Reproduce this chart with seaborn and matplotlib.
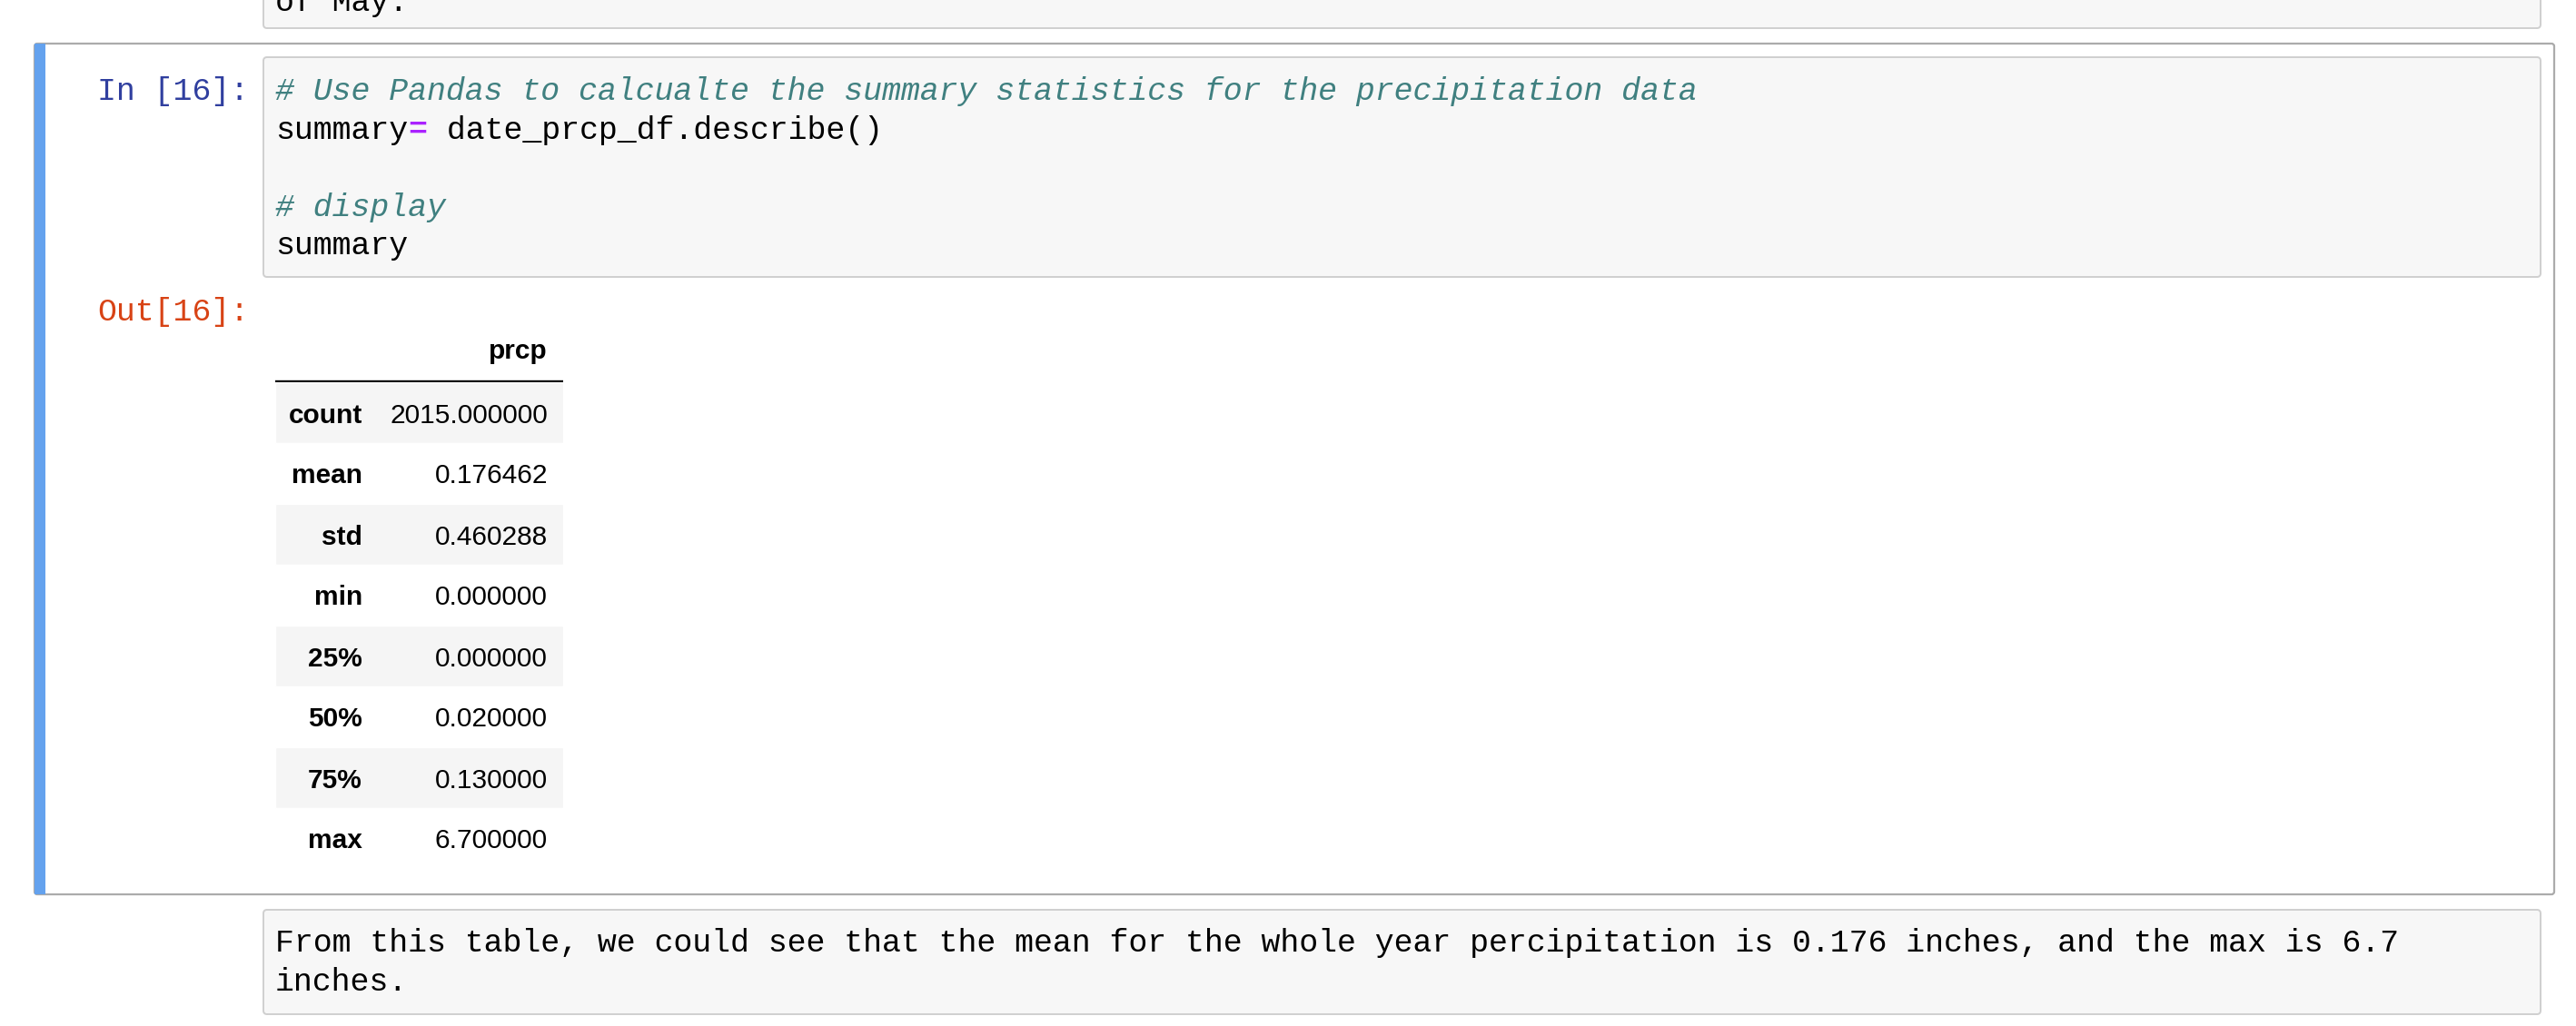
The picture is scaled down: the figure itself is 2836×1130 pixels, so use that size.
import matplotlib
matplotlib.use("Agg")
import matplotlib.pyplot as plt
from matplotlib.patches import FancyBboxPatch, Rectangle
import seaborn as sns
import pandas as pd

# ---------------- data ----------------
stat_labels = ["count", "mean", "std", "min", "25%", "50%", "75%", "max"]
prcp_values = [2015.0, 0.176462, 0.460288, 0.0, 0.0, 0.02, 0.13, 6.7]
column_name = "prcp"
in_prompt = "In [16]:"
out_prompt = "Out[16]:"
comment_1 = "# Use Pandas to calcualte the summary statistics for the precipitation data"
code_var = "summary"
code_op = "="
code_rest = " date_prcp_df.describe()"
comment_2 = "# display"
code_last = "summary"
prev_text = "of May."
md_lines = ["From this table, we could see that the mean for the whole year percipitation is 0.176 inches, and the max is 6.7",
            "inches."]

# ---------------- style ----------------
sns.set_theme(style="white")
plt.rcParams["font.family"] = ["Liberation Sans", "DejaVu Sans"]

W, H = 2836, 1130
fig = plt.figure(figsize=(W / 100, H / 100), dpi=100)
fig.patch.set_facecolor("white")
ax = fig.add_axes([0, 0, 1, 1])
ax.set_xlim(0, W)
ax.set_ylim(H, 0)
ax.axis("off")

MONO = "Liberation Mono"
MSIZE = 25.15
CW = 20.96  # monospace char advance in px
X0 = 303

def box(x0, y0, x1, y1, fc, ec, lw, r=4, z=1):
    p = FancyBboxPatch((x0, y0), x1 - x0, y1 - y0,
                       boxstyle=f"round,pad=0,rounding_size={r}",
                       fc=fc, ec=ec, lw=lw, zorder=z)
    ax.add_patch(p)

# previous markdown cell (cut off at top)
box(290, -30, 2797, 31, "#f7f7f7", "#cfcfcf", 1.4)
ax.text(X0, 12, prev_text, family=MONO, fontsize=MSIZE, color="black",
        ha="left", va="baseline", zorder=3)

# selected cell border
box(38, 48, 2812, 985, "white", "#ababab", 1.6, r=3)
ax.add_patch(Rectangle((38, 48), 12, 985 - 48, fc="#64a2ee", ec="none", zorder=2))

# code input box
box(290, 63, 2797, 305, "#f7f7f7", "#cfcfcf", 1.4)
ax.text(107, 110, in_prompt, family=MONO, fontsize=MSIZE, color="#303f9f",
        ha="left", va="baseline", zorder=3)

LH = 42.6
base = 110
ax.text(X0, base, comment_1, family=MONO, style="italic", fontsize=MSIZE,
        color="#408080", ha="left", va="baseline", zorder=3)
y2 = base + LH
ax.text(X0, y2, code_var, family=MONO, fontsize=MSIZE, color="black",
        ha="left", va="baseline", zorder=3)
ax.text(X0 + CW * len(code_var), y2, code_op, family=MONO, fontweight="bold",
        fontsize=MSIZE, color="#aa22ff", ha="left", va="baseline", zorder=3)
ax.text(X0 + CW * (len(code_var) + len(code_op)), y2, code_rest, family=MONO,
        fontsize=MSIZE, color="black", ha="left", va="baseline", zorder=3)
ax.text(X0, base + 3 * LH, comment_2, family=MONO, style="italic", fontsize=MSIZE,
        color="#408080", ha="left", va="baseline", zorder=3)
ax.text(X0, base + 4 * LH, code_last, family=MONO, fontsize=MSIZE, color="black",
        ha="left", va="baseline", zorder=3)

# output prompt
ax.text(107, 353, out_prompt, family=MONO, fontsize=MSIZE, color="#d84315",
        ha="left", va="baseline", zorder=3)

# table header
TSIZE = 21.5
ax.text(603, 395, column_name, fontsize=TSIZE, fontweight="bold", color="black",
        ha="right", va="baseline", zorder=3)
ax.hlines(420, 303, 620, color="black", lw=1.7, zorder=3)

# table body in its own axes (rows = categories)
t_left, t_right, t_top, t_bot = 303, 620, 421, 957
tax = fig.add_axes([t_left / W, 1 - t_bot / H, (t_right - t_left) / W, (t_bot - t_top) / H])
tdf = pd.DataFrame({"stat": stat_labels, "band": [1.0] * len(stat_labels)})
shades = ["#f5f5f5" if i % 2 == 0 else "#ffffff" for i in range(len(stat_labels))]
sns.barplot(data=tdf, x="band", y="stat", hue="stat", palette=shades, orient="h",
            width=1.0, saturation=1, errorbar=None, legend=False, ax=tax)
tax.set_xlim(0, 1)
tax.set_ylim(len(stat_labels) - 0.5, -0.5)
tax.axis("off")
tax.patch.set_alpha(0)

lab_x = (399 - t_left) / (t_right - t_left)
val_x = (603 - t_left) / (t_right - t_left)
row_px = (t_bot - t_top) / len(stat_labels)
off = 11 / row_px
for i, (lab, val) in enumerate(zip(stat_labels, prcp_values)):
    tax.text(lab_x, i + off, lab, fontsize=TSIZE, fontweight="bold", color="black",
             ha="right", va="baseline")
    tax.text(val_x, i + off, f"{val:.6f}", fontsize=TSIZE, color="black",
             ha="right", va="baseline")

# markdown cell below
box(290, 1002, 2797, 1117, "#f7f7f7", "#cfcfcf", 1.4)
for k, line in enumerate(md_lines):
    ax.text(X0, 1048 + k * 43, line, family=MONO, fontsize=MSIZE, color="black",
            ha="left", va="baseline", zorder=3)

fig.savefig("out.png", dpi=100, facecolor="white")
